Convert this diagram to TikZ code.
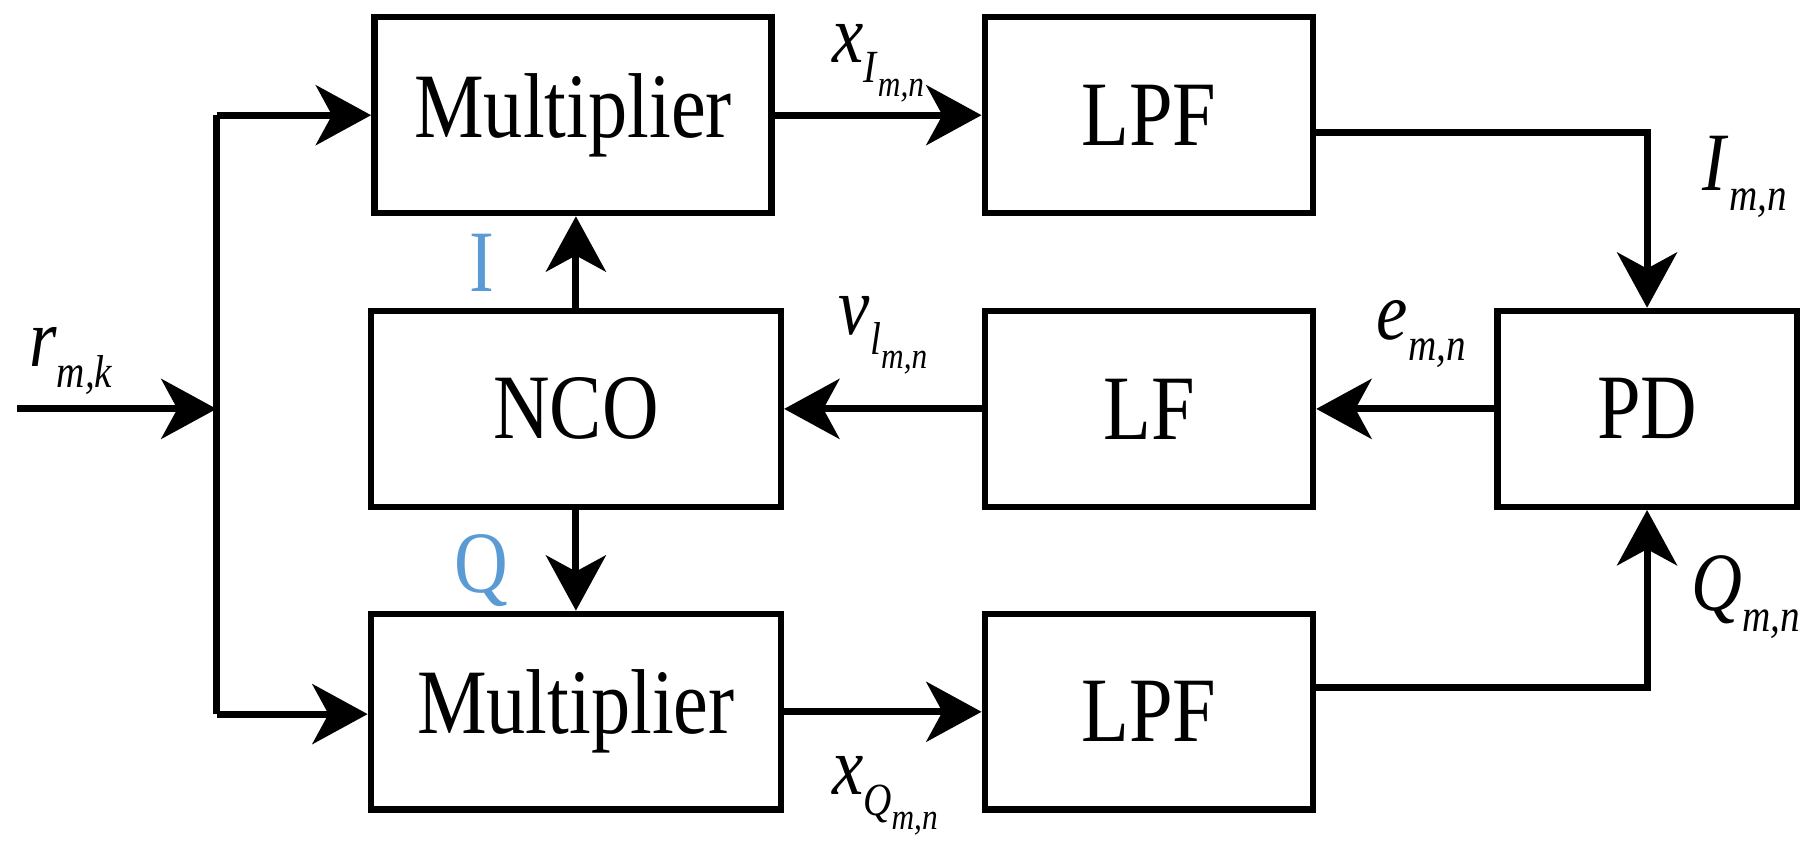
\documentclass[tikz,border=0pt]{standalone}
\usepackage{fontspec}
\setmainfont{Liberation Serif}[FakeStretch=0.85]
\usetikzlibrary{arrows.meta}
\definecolor{lblue}{RGB}{91,155,213}
\newcommand{\mylab}[3]{\fontsize{36}{38}\selectfont\textit{#1}\raisebox{-9pt}{\fontsize{20}{22}\selectfont\textit{#2}\ifx&#3&\else\raisebox{-6pt}{\fontsize{16}{18}\selectfont\textit{#3}}\fi}}
\begin{document}
\begin{tikzpicture}[x=0.5pt,y=-0.5pt,
  box/.style={draw,line width=2.8pt,minimum width=#1*0.5pt,minimum height=85pt,inner sep=0pt,font=\fontsize{40}{42}\selectfont},
  ln/.style={line width=3pt},
  ar/.style={ln,-{Stealth[length=24pt,width=26pt,inset=7pt]}}]
\useasboundingbox (0,0) rectangle (1568,738);
\node[box=345] (m1) at (497.5,100) {Multiplier};
\node[box=285] (l1) at (997.5,100) {LPF};
\node[box=356] (nco) at (500,355) {NCO};
\node[box=285] (lf) at (997.5,355) {LF};
\node[box=260] (pd) at (1430,355) {PD};
\node[box=356] (m2) at (500,618) {Multiplier};
\node[box=285] (l2) at (997.5,618) {LPF};
\coordinate (in) at (15,355);
\coordinate (j) at (188,355);
\coordinate (jt) at (188,100);
\coordinate (jb) at (188,620);
\draw[ar] (in) -- (j);
\draw[ln] (jt) -- (jb);
\draw[ar] (jt) -- (m1.west);
\draw[ar] (jb) -- (m2.west|-jb);
\draw[ar] (m1.east) -- (l1.west);
\draw[ar] (m2.east) -- (l2.west);
\draw[ar] (l1.east|-0,115) -| (pd.north);
\draw[ar] (l2.east|-0,597) -| (pd.south);
\draw[ar] (pd.west) -- (lf.east);
\draw[ar] (lf.west) -- (nco.east);
\draw[ar] (nco.north) -- (m1.south-|nco.north);
\draw[ar] (nco.south) -- (m2.north);
\node[anchor=base west,inner sep=0] (tr) at (25,318) {\mylab{r}{m,k}{}};
\node[anchor=base west,inner sep=0] (txi) at (722,54) {\mylab{x}{I}{m,n}};
\node[anchor=base west,inner sep=0] (tim) at (1478,165) {\mylab{I}{m,n}{}};
\node[anchor=base west,inner sep=0] (tv) at (728,290) {\mylab{v}{l}{m,n}};
\node[anchor=base west,inner sep=0] (te) at (1195,295) {\mylab{e}{m,n}{}};
\node[anchor=base west,inner sep=0] (tq) at (1468,530) {\mylab{Q}{m,n}{}};
\node[anchor=base west,inner sep=0] (txq) at (722,690) {\mylab{x}{Q}{m,n}};
\node[text=lblue,font=\fontsize{38}{40}\selectfont] (bi) at (418,228) {I};
\node[text=lblue,font=\fontsize{38}{40}\selectfont] (bq) at (418,495) {Q};
\end{tikzpicture}
\end{document}
